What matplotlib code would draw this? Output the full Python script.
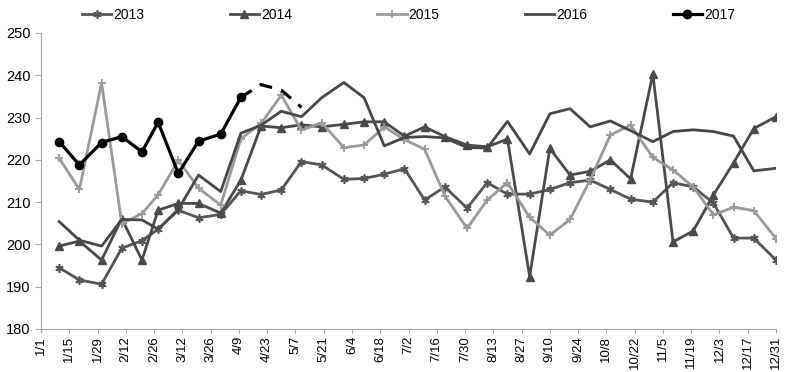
import numpy as np
import matplotlib
matplotlib.use("Agg")
import matplotlib.pyplot as plt
import pandas as pd

plt.rcParams['font.family'] = ['Liberation Sans', 'DejaVu Sans']

# dados: um ponto por decêndio (dia 10, dia 20 e fim do mês)
meses = list(range(1, 13))

s2013 = [194.5, 191.6, 190.6, 199.1, 200.9, 203.6, 208.1, 206.3, 207.1, 212.7, 211.8, 212.9,
         219.6, 218.8, 215.4, 215.6, 216.6, 217.9, 210.5, 213.6, 208.6, 214.6, 211.9, 211.9,
         213.0, 214.6, 215.2, 213.0, 210.7, 210.0, 214.6, 213.6, 209.8, 201.5, 201.5, 196.3]
s2014 = [199.6, 200.8, 196.3, 206.1, 196.3, 208.1, 209.7, 209.7, 207.4, 215.2, 228.0, 227.6,
         228.3, 227.8, 228.4, 229.0, 229.0, 225.6, 227.8, 225.5, 223.5, 223.1, 224.9, 192.4,
         222.7, 216.4, 217.3, 220.0, 215.5, 240.3, 200.6, 203.2, 211.7, 219.3, 227.4, 230.2]
s2015 = [220.4, 213.0, 238.2, 204.9, 207.3, 211.7, 219.9, 213.3, 209.3, 225.0, 228.6, 235.3,
         227.0, 228.8, 222.9, 223.5, 227.8, 224.8, 222.5, 211.5, 203.8, 210.5, 214.6, 206.4,
         202.2, 205.9, 215.3, 225.9, 228.2, 220.6, 217.6, 213.6, 207.0, 208.8, 208.0, 201.4]
s2016 = [205.4, 201.0, 199.6, 205.9, 205.8, 203.6, 208.3, 216.4, 212.5, 226.3, 228.2, 231.5,
         230.2, 234.7, 238.3, 234.7, 223.3, 225.3, 225.5, 225.2, 222.9, 222.8, 229.1, 221.4,
         230.9, 232.1, 227.8, 229.2, 226.9, 224.3, 226.7, 227.1, 226.7, 225.6, 217.4, 218.0]
s2017 = [224.3, 218.8, 224.1, 225.5, 221.9, 228.9, 216.8, 224.4, 226.1, 234.8]
s2017_prev = [234.8, 237.8, 236.5, 232.4]


# criar datas dos decêndios
def decendios(ano=2017):
    datas = []
    for m in meses:
        fim = pd.Timestamp(ano, m, 1) + pd.offsets.MonthEnd(0)
        datas += [pd.Timestamp(ano, m, 10), pd.Timestamp(ano, m, 20), fim]
    return datas


datas = decendios()
datas_prev = datas[9:13]

fig = plt.figure(figsize=(7.88, 3.72), dpi=100)
ax = fig.add_axes([41 / 788, 1 - 329 / 372, 735 / 788, 296 / 372])

lw = 2.0
ax.plot(datas, s2013, color='#555555', lw=lw, marker=(6, 2, 0), ms=6, mew=1.2, label='2013')
ax.plot(datas, s2014, color='#4a4a4a', lw=lw, marker='^', ms=5.5, label='2014')
ax.plot(datas, s2015, color='#9a9a9a', lw=lw, marker='+', ms=6, mew=1.3, label='2015')
ax.plot(datas, s2016, color='#474747', lw=lw, label='2016')
ax.plot(datas[:10], s2017, color='black', lw=2.3, marker='o', ms=6, label='2017', zorder=5)
ax.plot(datas_prev, s2017_prev, color='black', lw=2.3, ls=(0, (4, 3)), zorder=5)

ax.set_ylim(180, 250)
ax.set_yticks(np.arange(180, 251, 10))
ax.set_xlim(pd.Timestamp(2017, 1, 1), pd.Timestamp(2017, 12, 31))
ticks = pd.date_range('2017-01-01', '2017-12-31', freq='14D')
ax.set_xticks(ticks)
ax.set_xticklabels([f"{d.month}/{d.day}" for d in ticks], rotation=90)

for lado in ['top', 'right']:
    ax.spines[lado].set_visible(False)
ax.spines['left'].set_color('#a6a6a6')
ax.spines['bottom'].set_color('#a6a6a6')
ax.tick_params(axis='y', colors='#a6a6a6', labelcolor='black', labelsize=10.5, length=4)
ax.tick_params(axis='x', colors='#a6a6a6', labelcolor='black', labelsize=9.5, length=3, pad=2)

fig.legend(loc='center left', bbox_to_anchor=(82 / 788, 1 - 15 / 372), ncol=5, frameon=False,
           fontsize=10, handlelength=2.1, handletextpad=0.15, columnspacing=6.15,
           borderaxespad=0, borderpad=0)

fig.savefig('out.png', dpi=100)
